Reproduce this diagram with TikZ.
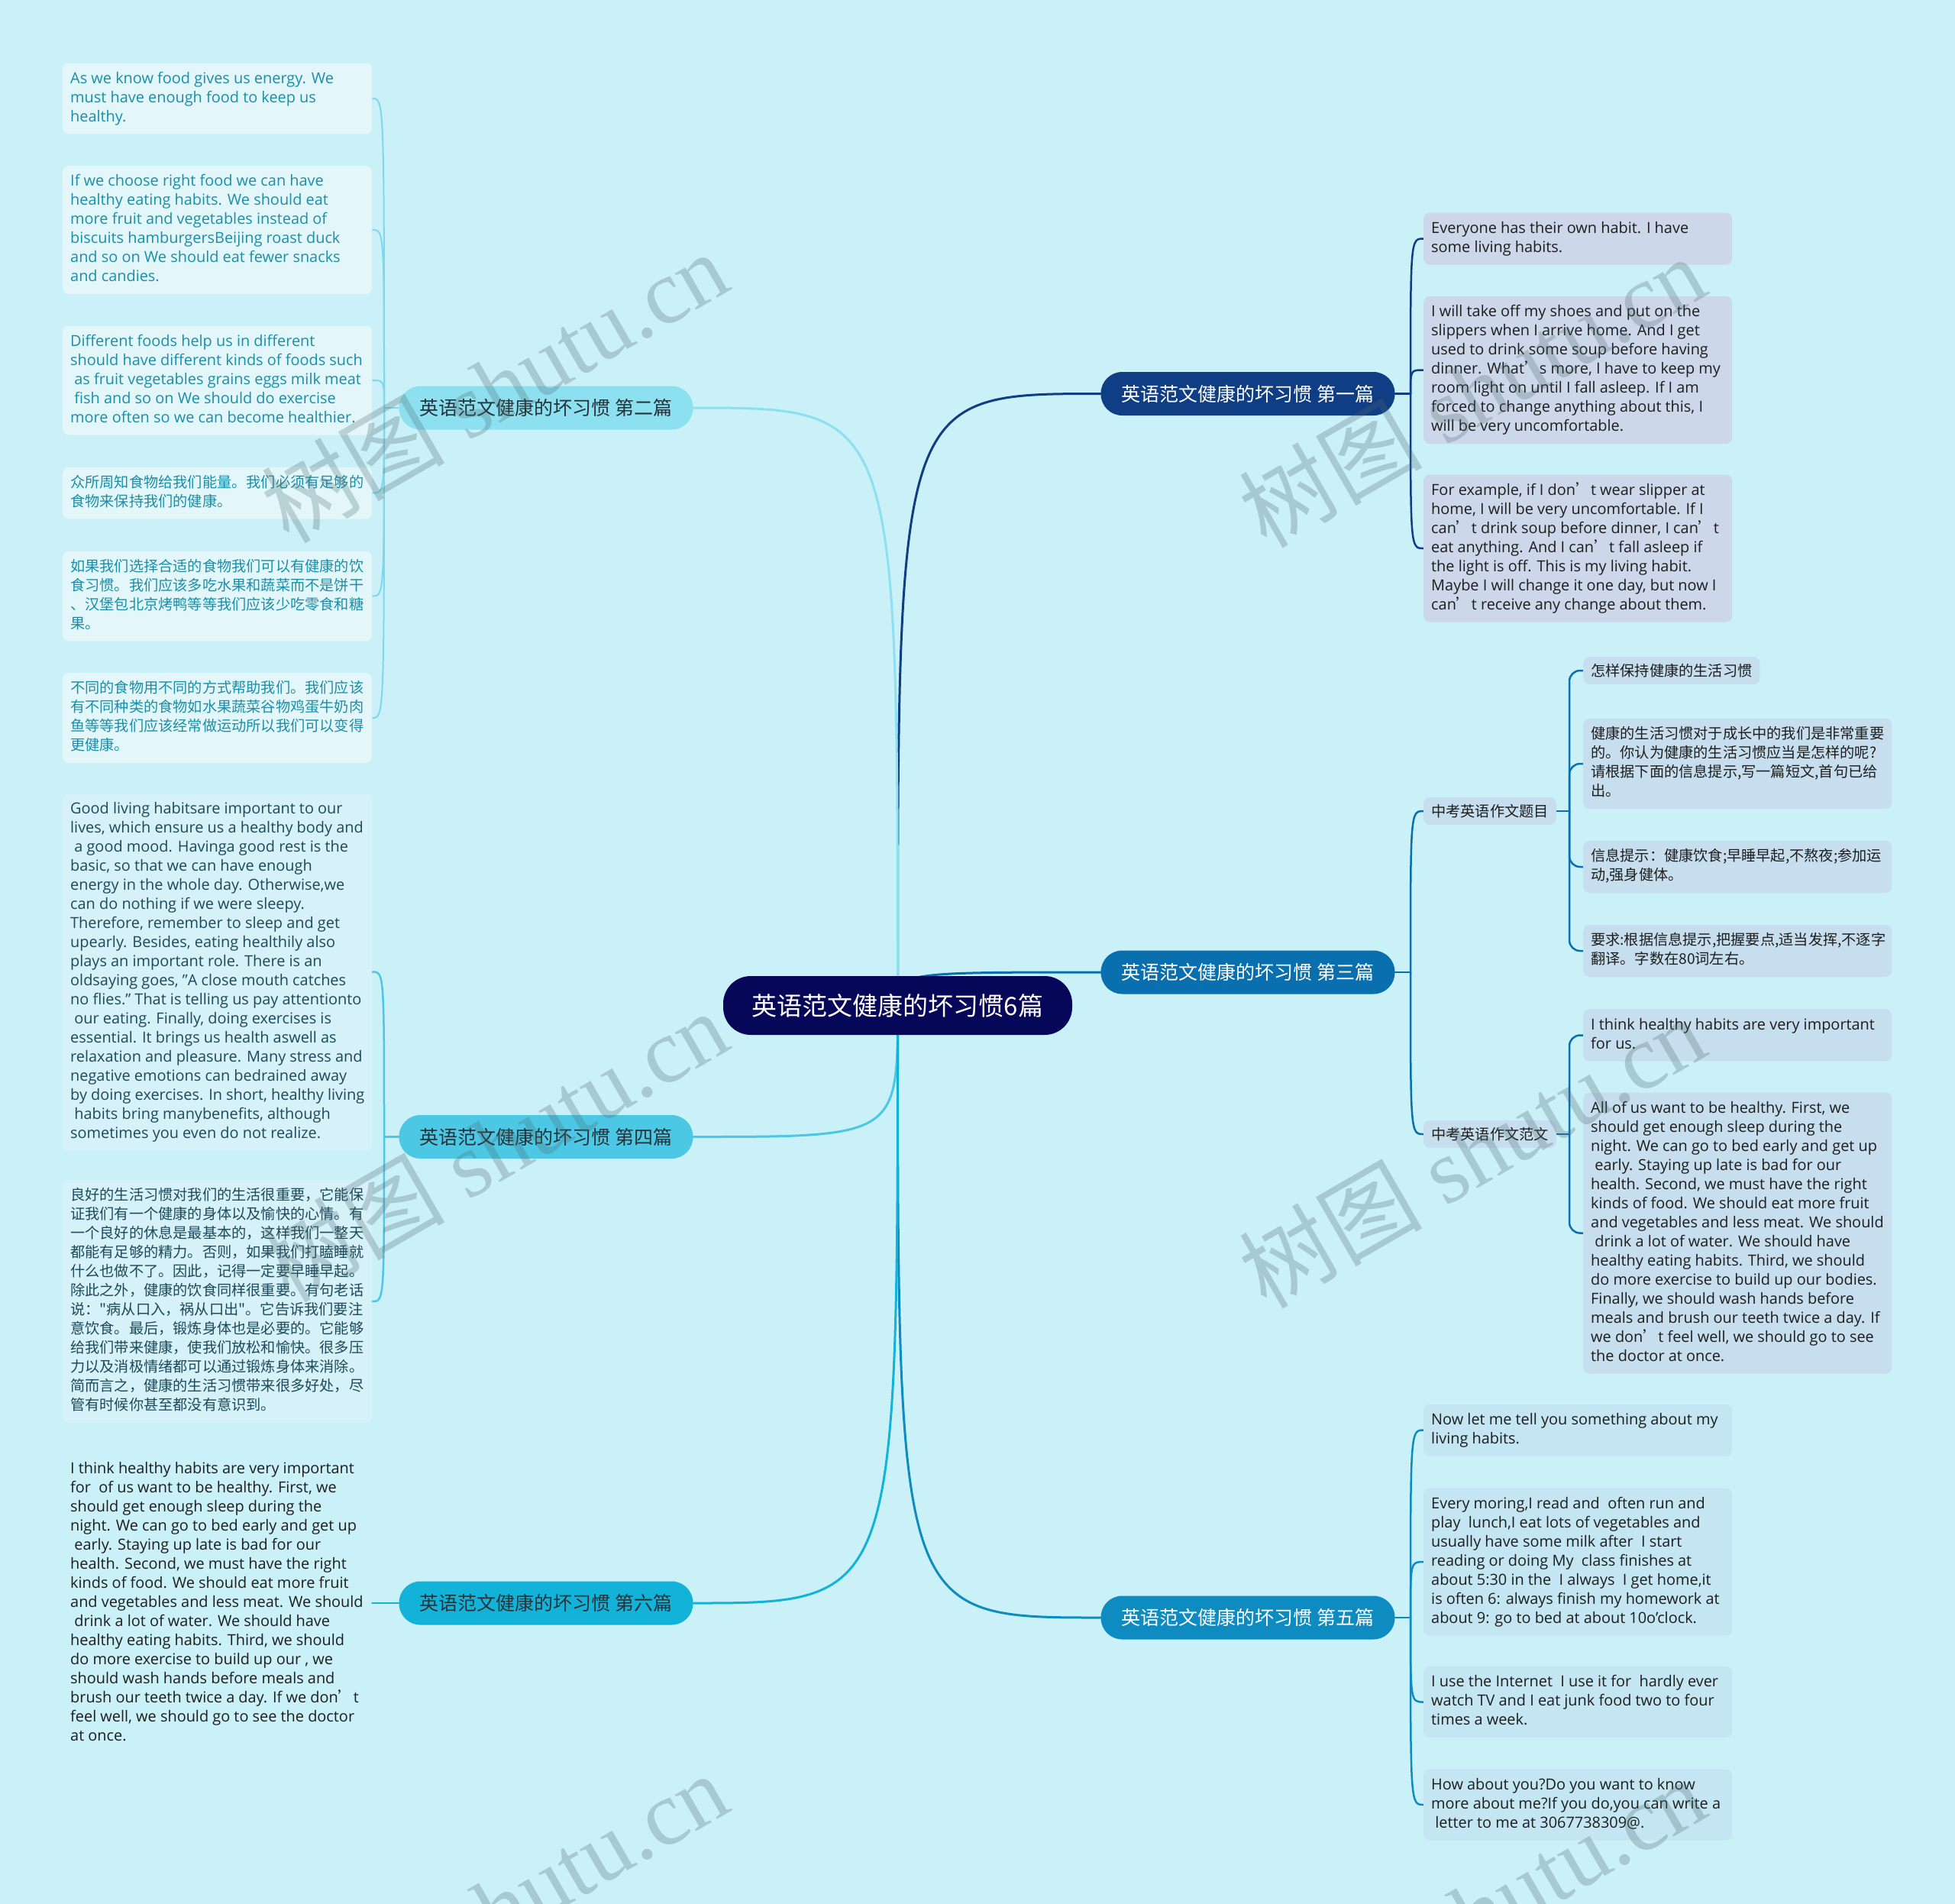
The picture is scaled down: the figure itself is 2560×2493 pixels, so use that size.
\documentclass[tikz,border=0pt]{standalone}
\usepackage{fontspec}
\setmainfont{Open Sans}
\newfontfamily\cjk{Noto Sans CJK SC}
\newfontfamily\wmserif{Liberation Serif}
\pgfdeclarelayer{bg}
\pgfdeclarelayer{fg}
\pgfsetlayers{bg,main,fg}

\definecolor{bgc}{HTML}{CAF0F8}
\definecolor{rootc}{HTML}{07075A}
\definecolor{cA}{HTML}{0F3E85}
\definecolor{cC}{HTML}{0A6FAF}
\definecolor{cE}{HTML}{0E8CC1}
\definecolor{cB}{HTML}{8DE0F0}
\definecolor{cD}{HTML}{4CC8E4}
\definecolor{cF}{HTML}{13B3D9}
\definecolor{lineB}{HTML}{7ED8EB}
\definecolor{fillA}{HTML}{CCD8EA}
\definecolor{fillC}{HTML}{C6DEED}
\definecolor{fillE}{HTML}{C3E6F2}
\definecolor{fillB}{HTML}{E3F7FB}
\definecolor{fillD}{HTML}{D6F2F8}
\definecolor{txtB}{HTML}{1A8EA8}
\definecolor{txtD}{HTML}{1C4A5A}
\definecolor{txtK}{HTML}{1E1E1E}
\definecolor{txtL}{HTML}{263238}
\definecolor{wm}{HTML}{4F6B72}

\newcommand\en{\fontsize{19.9}{25}\selectfont}
\newcommand\zh{\cjk\fontsize{19.2}{25}\selectfont}
\newcommand\q{{\cjk ’}}
\newcommand\lines[2]{\hbox to #1pt{\vbox{\let\\\cr\halign{\strut##\hfil\cr#2\crcr}}\hss}}

\tikzset{
  rootbox/.style={fill=rootc, text=white, rounded corners=36, minimum width=457, minimum height=77, inner sep=0, font=\cjk\fontsize{33}{40}\selectfont},
  branchbox/.style={rounded corners=28, minimum width=385, minimum height=57, inner sep=0, font=\cjk\fontsize{25}{30}\selectfont},
  leafbox/.style={rounded corners=8, inner xsep=10, inner ysep=9, anchor=west},
  mainline/.style={line width=3, line cap=round},
  subline/.style={line width=2.5, line cap=round},
  wmark/.style={rotate=30, text=wm, text opacity=0.28, font=\wmserif\fontsize{120}{120}\selectfont},
}

\begin{document}
\begin{tikzpicture}[x=1pt, y=-1pt]
\useasboundingbox (0,0) rectangle (2560,2493);

% ---------- root and branches ----------
\node[rootbox] (root) at (1175.5,1316.5) {英语范文健康的坏习惯6篇};
\node[branchbox, fill=cA, text=white] (b1) at (1634,515.5) {英语范文健康的坏习惯 第一篇};
\node[branchbox, fill=cC, text=white] (b3) at (1634,1273) {英语范文健康的坏习惯 第三篇};
\node[branchbox, fill=cE, text=white] (b5) at (1634,2118) {英语范文健康的坏习惯 第五篇};
\node[branchbox, fill=cB, text=txtL] (b2) at (715,534) {英语范文健康的坏习惯 第二篇};
\node[branchbox, fill=cD, text=txtL] (b4) at (715,1488.5) {英语范文健康的坏习惯 第四篇};
\node[branchbox, fill=cF, text=txtL] (b6) at (715,2099) {英语范文健康的坏习惯 第六篇};

% ---------- branch 1 leaves ----------
\node[leafbox, fill=fillA, text=txtK, font=\en] (l11) at (1864,312.5) {\lines{384}{Everyone has their own habit. I have\\some living habits.}};
\node[leafbox, fill=fillA, text=txtK, font=\en] (l12) at (1864,484.5) {\lines{384}{I will take off my shoes and put on the\\slippers when I arrive home. And I get\\used to drink some soup before having\\dinner. What\q s more, I have to keep my\\room light on until I fall asleep. If I am\\forced to change anything about this, I\\will be very uncomfortable.}};
\node[leafbox, fill=fillA, text=txtK, font=\en] (l13) at (1864,718) {\lines{384}{For example, if I don\q t wear slipper at\\home, I will be very uncomfortable. If I\\can\q t drink soup before dinner, I can\q t\\eat anything. And I can\q t fall asleep if\\the light is off. This is my living habit.\\Maybe I will change it one day, but now I\\can\q t receive any change about them.}};

% ---------- branch 3 ----------
\node[leafbox, fill=fillC, text=txtK, font=\zh] (t) at (1864,1062) {中考英语作文题目};
\node[leafbox, fill=fillC, text=txtK, font=\zh] (f) at (1864,1485) {中考英语作文范文};
\node[leafbox, fill=fillC, text=txtK, font=\zh] (t1) at (2073,878) {怎样保持健康的生活习惯};
\node[leafbox, fill=fillC, text=txtK, font=\zh] (t2) at (2073,1000) {\lines{384}{健康的生活习惯对于成长中的我们是非常重要\\的。你认为健康的生活习惯应当是怎样的呢?\\请根据下面的信息提示,写一篇短文,首句已给\\出。}};
\node[leafbox, fill=fillC, text=txtK, font=\zh] (t3) at (2073,1135) {\lines{384}{信息提示：健康饮食;早睡早起,不熬夜;参加运\\动,强身健体。}};
\node[leafbox, fill=fillC, text=txtK, font=\zh] (t4) at (2073,1245) {\lines{384}{要求:根据信息提示,把握要点,适当发挥,不逐字\\翻译。字数在80词左右。}};
\node[leafbox, fill=fillC, text=txtK, font=\en] (f1) at (2073,1355.5) {\lines{384}{I think healthy habits are very important\\for us.}};
\node[leafbox, fill=fillC, text=txtK, font=\en] (f2) at (2073,1614.5) {\lines{384}{All of us want to be healthy. First, we\\should get enough sleep during the\\night. We can go to bed early and get up\\\ early. Staying up late is bad for our\\health. Second, we must have the right\\kinds of food. We should eat more fruit\\and vegetables and less meat. We should\\\ drink a lot of water. We should have\\healthy eating habits. Third, we should\\do more exercise to build up our bodies.\\Finally, we should wash hands before\\meals and brush our teeth twice a day. If\\we don\q t feel well, we should go to see\\the doctor at once.}};

% ---------- branch 5 leaves ----------
\node[leafbox, fill=fillE, text=txtK, font=\en] (l51) at (1864,1872.5) {\lines{384}{Now let me tell you something about my\\living habits.}};
\node[leafbox, fill=fillE, text=txtK, font=\en] (l52) at (1864,2045) {\lines{384}{Every moring,I read and\ \ often run and\\play\ \ lunch,I eat lots of vegetables and\\usually have some milk after\ \ I start\\reading or doing My\ \ class finishes at\\about 5:30 in the\ \ I always\ \ I get home,it\\is often 6: always finish my homework at\\about 9: go to bed at about 10o'clock.}};
\node[leafbox, fill=fillE, text=txtK, font=\en] (l53) at (1864,2228.5) {\lines{384}{I use the Internet\ \ I use it for\ \ hardly ever\\watch TV and I eat junk food two to four\\times a week.}};
\node[leafbox, fill=fillE, text=txtK, font=\en] (l54) at (1864,2363) {\lines{384}{How about you?Do you want to know\\more about me?If you do,you can write a\\\ letter to me at 3067738309@.}};

% ---------- branch 2 leaves ----------
\node[leafbox, fill=fillB, text=txtB, font=\en] (l21) at (82,129) {\lines{385}{As we know food gives us energy. We\\must have enough food to keep us\\healthy.}};
\node[leafbox, fill=fillB, text=txtB, font=\en] (l22) at (82,301) {\lines{385}{If we choose right food we can have\\healthy eating habits. We should eat\\more fruit and vegetables instead of\\biscuits hamburgersBeijing roast duck\\and so on We should eat fewer snacks\\and candies.}};
\node[leafbox, fill=fillB, text=txtB, font=\en] (l23) at (82,498) {\lines{385}{Different foods help us in different\\should have different kinds of foods such\\\ as fruit vegetables grains eggs milk meat\\\ fish and so on We should do exercise\\more often so we can become healthier.}};
\node[leafbox, fill=fillB, text=txtB, font=\zh] (l24) at (82,645.5) {\lines{385}{众所周知食物给我们能量。我们必须有足够的\\食物来保持我们的健康。}};
\node[leafbox, fill=fillB, text=txtB, font=\zh] (l25) at (82,780.5) {\lines{385}{如果我们选择合适的食物我们可以有健康的饮\\食习惯。我们应该多吃水果和蔬菜而不是饼干\\、汉堡包北京烤鸭等等我们应该少吃零食和糖\\果。}};
\node[leafbox, fill=fillB, text=txtB, font=\zh] (l26) at (82,940) {\lines{385}{不同的食物用不同的方式帮助我们。我们应该\\有不同种类的食物如水果蔬菜谷物鸡蛋牛奶肉\\鱼等等我们应该经常做运动所以我们可以变得\\更健康。}};

% ---------- branch 4 leaves ----------
\node[leafbox, fill=fillD, text=txtD, font=\en] (l41) at (82,1272.5) {\lines{385}{Good living habitsare important to our\\lives, which ensure us a healthy body and\\\ a good mood. Havinga good rest is the\\basic, so that we can have enough\\energy in the whole day. Otherwise,we\\can do nothing if we were sleepy.\\Therefore, remember to sleep and get\\upearly. Besides, eating healthily also\\plays an important role. There is an\\oldsaying goes, "A close mouth catches\\no flies." That is telling us pay attentionto\\\ our eating. Finally, doing exercises is\\essential. It brings us health aswell as\\relaxation and pleasure. Many stress and\\negative emotions can bedrained away\\by doing exercises. In short, healthy living\\\ habits bring manybenefits, although\\sometimes you even do not realize.}};
\node[leafbox, fill=fillD, text=txtD, font=\zh] (l42) at (82,1704) {\lines{385}{良好的生活习惯对我们的生活很重要，它能保\\证我们有一个健康的身体以及愉快的心情。有\\一个良好的休息是最基本的，这样我们一整天\\都能有足够的精力。否则，如果我们打瞌睡就\\什么也做不了。因此，记得一定要早睡早起。\\除此之外，健康的饮食同样很重要。有句老话\\说："病从口入，祸从口出"。它告诉我们要注\\意饮食。最后，锻炼身体也是必要的。它能够\\给我们带来健康，使我们放松和愉快。很多压\\力以及消极情绪都可以通过锻炼身体来消除。\\简而言之，健康的生活习惯带来很多好处，尽\\管有时候你甚至都没有意识到。}};

% ---------- branch 6 leaf ----------
\node[leafbox, text=txtK, font=\en] (l61) at (82,2099) {\lines{385}{I think healthy habits are very important\\for\ \ of us want to be healthy. First, we\\should get enough sleep during the\\night. We can go to bed early and get up\\\ early. Staying up late is bad for our\\health. Second, we must have the right\\kinds of food. We should eat more fruit\\and vegetables and less meat. We should\\\ drink a lot of water. We should have\\healthy eating habits. Third, we should\\do more exercise to build up our , we\\should wash hands before meals and\\brush our teeth twice a day. If we don\q t\\feel well, we should go to see the doctor\\at once.}};

% ---------- connectors ----------
\begin{pgfonlayer}{bg}
  \fill[bgc] (0,0) rectangle (2560,2493);
  \draw[mainline, cA] (root.center) .. controls (root.center |- b1.west) .. (b1.west);
  \draw[mainline, cC] (root.center) .. controls (root.center |- b3.west) .. (b3.west);
  \draw[mainline, cE] (root.center) .. controls (root.center |- b5.west) .. (b5.west);
  \draw[mainline, cB] (root.center) .. controls (root.center |- b2.east) .. (b2.east);
  \draw[mainline, cD] (root.center) .. controls (root.center |- b4.east) .. (b4.east);
  \draw[mainline, cF] (root.center) .. controls (root.center |- b6.east) .. (b6.east);

  \coordinate (j1) at (1847,515.5);
  \draw[subline, cA] (b1.east) -- (j1);
  \foreach \n in {l11,l12,l13} \draw[subline, cA] (j1) .. controls (j1 |- \n.west) .. (\n.west);

  \coordinate (j3) at (1847,1273);
  \draw[subline, cC] (b3.east) -- (j3);
  \foreach \n in {t,f} \draw[subline, cC] (j3) .. controls (j3 |- \n.west) .. (\n.west);
  \coordinate (jt) at (2055,1062);
  \draw[subline, cC] (t.east) -- (jt);
  \foreach \n in {t1,t2,t3,t4} \draw[subline, cC, rounded corners=14] (jt) |- (\n.west);
  \coordinate (jf) at (2055,1485);
  \draw[subline, cC] (f.east) -- (jf);
  \foreach \n in {f1,f2} \draw[subline, cC, rounded corners=14] (jf) |- (\n.west);

  \coordinate (j5) at (1847,2118);
  \draw[subline, cE] (b5.east) -- (j5);
  \foreach \n in {l51,l52,l53,l54} \draw[subline, cE] (j5) .. controls (j5 |- \n.west) .. (\n.west);

  \coordinate (j2) at (503,534);
  \draw[line width=2, lineB] (b2.west) -- (j2);
  \foreach \n in {l21,l22,l23,l24,l25,l26} \draw[line width=2, lineB] (j2) .. controls (j2 |- \n.east) .. (\n.east);

  \coordinate (j4) at (503,1488.5);
  \draw[subline, cD] (b4.west) -- (j4);
  \foreach \n in {l41,l42} \draw[subline, cD] (j4) .. controls (j4 |- \n.east) .. (\n.east);

  \draw[subline, cF] (b6.west) -- (l61.east);
\end{pgfonlayer}

% ---------- watermark ----------
\begin{pgfonlayer}{fg}
  \foreach \x/\y/\k in {647/506/1, 1927/512/2, 647/1500/3, 1927/1508/4, 647/2498/5, 1927/2505/6}
    \node[wmark] (wm\k) at (\x,\y) {{\cjk 树图} shutu.cn};
\end{pgfonlayer}
\end{tikzpicture}
\end{document}
